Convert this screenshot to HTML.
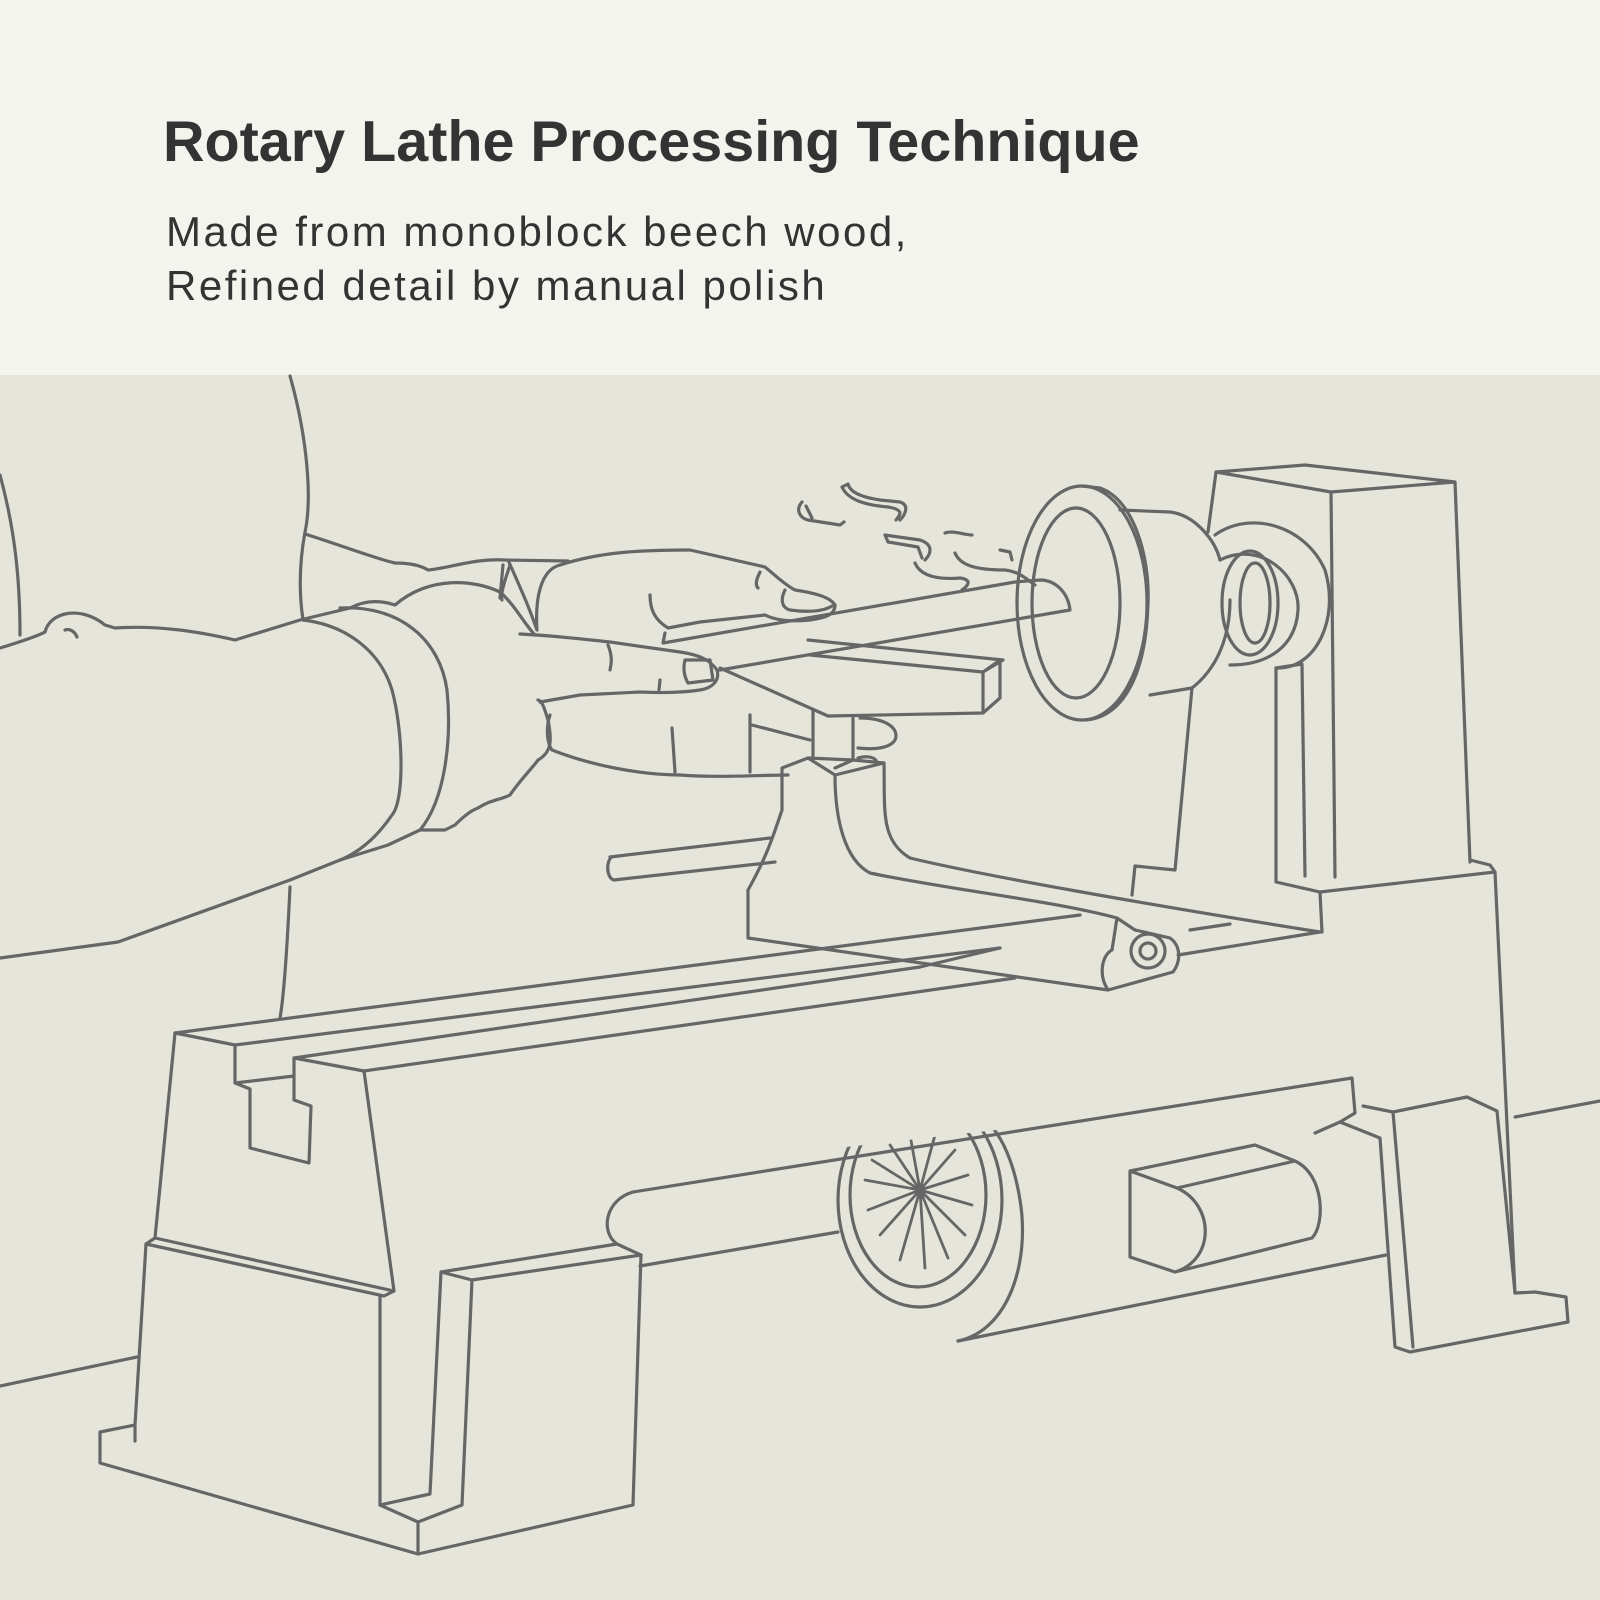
<!DOCTYPE html>
<html><head><style>
html,body{margin:0;padding:0}
body{width:1600px;height:1600px;position:relative;background:#e6e5db;overflow:hidden;font-family:"Liberation Sans",sans-serif}
.top{position:absolute;left:0;top:0;width:1600px;height:375px;background:#f4f4ee}
h1{position:absolute;left:163px;top:109px;margin:0;font-size:57.5px;font-weight:bold;color:#333;letter-spacing:0px}
.sub{position:absolute;left:166px;top:205px;font-size:42px;line-height:54px;color:#333;letter-spacing:2.5px}
svg{position:absolute;left:0;top:0}
</style></head><body>
<div class="top"></div>
<h1>Rotary Lathe Processing Technique</h1>
<div class="sub">Made from monoblock beech wood,<br>Refined detail by manual polish</div>
<svg width="1600" height="1600" viewBox="0 0 1600 1600" fill="none" stroke="#666" stroke-width="3.2" stroke-linejoin="round" stroke-linecap="round">
<path d="M0 1386 L137 1357 M1515 1117 L1600 1101 M640 1266 L838 1232 M958 1341 L1386 1255"/>
<path d="M175 1033 L1080 915 M235 1045 L1000 948 M294 1058 L920 967 M364 1071 L1015 978 M1178 955 L1320 932 M1190 930 L1230 924"/>
<path d="M175 1033 L235 1045 L235 1083 L294 1076 M294 1058 L364 1071 L294 1058 L294 1100 L311 1106 L309 1163 L250 1148 L250 1089 L235 1083"/>
<path d="M175 1033 L155 1238 L146 1244 L384 1296 L394 1291 L155 1238 M364 1071 L394 1291"/>
<path d="M146 1244 L135 1425 L100 1432 L100 1463 L418 1554 L633 1505 L641 1255 L617 1244 L441 1272 L430 1494 L380 1505 L380 1296"/>
<path d="M441 1272 L472 1280 L462 1505 L418 1522 L418 1554 M380 1505 L418 1522 M472 1280 L641 1255 M135 1425 L135 1441"/>
<path d="M633 1192 C605 1200 600 1232 617 1244 M633 1192 L1352 1078 L1355 1113 L1340 1122 L1380 1138 L1395 1347 L1410 1352 L1568 1322 L1566 1297 L1535 1292 L1515 1293 L1497 1111 L1467 1097 L1393 1112 L1363 1106 M1393 1112 L1413 1347"/>
<path d="M1315 1133 L1340 1122"/>
<path d="M1322 932 L1320 892 L1495 872 L1515 1293 M1320 892 L1276 882 L1276 668 L1302 664 L1305 876 M1495 872 L1490 865 L1470 860"/>
<defs><clipPath id="c"><path d="M820 1150 L1040 1125 L1040 1360 L820 1360Z"/></clipPath></defs>
<g clip-path="url(#c)">
<ellipse cx="920" cy="1200" rx="82" ry="107"/>
<ellipse cx="918" cy="1195" rx="68" ry="92"/>
<path d="M958 1341 C1010 1330 1030 1260 1020 1200 C1012 1150 995 1130 990 1125"/>
<g transform="translate(920,1190)" stroke-width="2.8">
<path d="M0 0 L-55 -10 M0 0 L-52 20 M0 0 L-40 45 M0 0 L-20 70 M0 0 L5 78 M0 0 L28 68 M0 0 L45 45 M0 0 L52 15 M0 0 L48 -15 M0 0 L35 -40 M0 0 L15 -55 M0 0 L-10 -55 M0 0 L-30 -45 M0 0 L-48 -30"/>
</g>
</g>
<path d="M1130 1171 L1255 1145 L1295 1161 C1325 1175 1325 1225 1312 1238 L1175 1272 L1130 1257 Z M1130 1171 L1177 1188 L1295 1161 M1177 1188 C1215 1205 1215 1260 1175 1272"/>
<path d="M1216 472 L1305 465 L1455 482 L1331 492 L1216 472 L1208 532 M1331 492 L1335 877 M1455 482 L1470 862"/>
<ellipse cx="1082" cy="603" rx="65" ry="117"/>
<ellipse cx="1076" cy="603" rx="44" ry="95"/>
<path d="M1082 486 L1100 488 C1135 500 1150 560 1148 603 C1146 680 1120 718 1085 720"/>
<path d="M1120 510 L1170 512 C1195 515 1215 540 1220 560 M1150 695 L1192 688 C1215 670 1230 640 1230 600"/>
<path d="M1215 535 C1250 510 1305 525 1325 570 C1340 620 1315 670 1276 668 M1220 560 C1260 540 1300 575 1298 610 C1296 645 1270 665 1230 665"/>
<ellipse cx="1250" cy="603" rx="28" ry="52"/><ellipse cx="1255" cy="603" rx="15" ry="40"/>
<path d="M1192 688 L1175 870 L1135 866 L1132 895"/>
<path d="M748 890 L748 938 L1108 990 L1173 972 C1182 960 1180 945 1170 938 L1135 930 L1170 938 M1108 990 C1098 975 1102 955 1112 950 L1117 918 L1135 930 M748 890 C765 860 772 840 782 810 L782 768 L808 758 L835 775 L884 763 M835 775 C835 820 845 860 870 873 C950 890 1050 900 1117 918"/>
<path d="M884 763 C885 810 880 840 910 858 C980 875 1150 905 1320 932 M920 967 L1000 948"/>
<circle cx="1148" cy="951" r="17"/><circle cx="1148" cy="951" r="8"/>
<path d="M610 857 L770 838 M614 880 L775 862 M612 857 C606 860 606 878 614 880"/>
<path d="M813 710 L813 758 M853 718 L853 760 L835 768 M808 758 L853 760 L884 763"/>
<path d="M720 668 L828 716 L983 713 L1000 698 L1000 660 L983 672 L983 713 M810 655 L983 672 L1003 660 L808 640"/>
<path d="M720 670 L1070 610 C1068 592 1055 580 1040 580 L1015 582 L663 643 L665 633"/>
<path d="M802 502 C795 510 800 518 808 520 L840 525 L844 522 M806 506 L812 518 M842 487 L848 484 C850 492 860 497 880 500 L900 502 C910 505 905 515 900 520 M842 487 C848 500 865 505 888 507 C905 510 900 515 896 520 M885 535 L920 540 C935 545 930 555 925 560 M885 535 L888 542 L918 547 L922 558 M945 533 C952 530 965 535 972 535 M915 563 C920 575 935 580 960 578 C975 580 965 588 962 590 M955 553 C960 565 975 570 1005 570 C1020 572 1025 578 1035 585 M1000 550 L1010 552 L1012 560"/>
<path d="M290 376 C308 440 312 500 305 532 C298 570 300 600 303 620"/>
<path d="M0 475 C15 530 20 580 20 635"/>
<path d="M305 534 C340 545 380 560 395 563 C410 563 420 565 428 570 C450 568 475 558 505 560 L568 561"/>
<path d="M290 887 C288 930 285 990 280 1018"/>
<path d="M0 648 C20 642 40 635 45 632 C50 612 80 605 105 625 L115 628 C160 625 200 632 235 640 L300 620 L350 608 C365 600 380 600 395 605 C430 575 475 580 500 592 C515 605 525 625 535 635"/>
<path d="M65 630 C70 628 75 632 77 637"/>
<path d="M303 620 C345 625 380 650 392 690 C403 730 405 800 392 815 C375 840 355 855 335 862 L290 880 L118 942 L0 958"/>
<path d="M340 608 C400 605 440 640 447 690 C452 740 445 800 420 830 L388 845 L340 860 M420 830 L445 830 L455 825 C465 815 472 810 478 808 C490 800 500 800 510 795 C520 780 535 765 538 760 C552 752 552 740 548 720 C545 710 542 700 538 700"/>
<path d="M520 634 C560 636 590 640 610 642 L680 652 C700 655 710 660 717 670 C720 680 713 688 700 690 C680 693 660 693 640 692 L580 695 L540 702"/>
<path d="M685 660 L710 660 L713 680 L688 683 C684 676 683 668 685 660 Z"/>
<path d="M608 645 C612 655 612 662 610 670 M660 680 L659 690"/>
<path d="M550 715 C545 730 548 745 552 750 C590 765 640 775 680 775 C720 778 760 775 788 775 M672 728 L675 772 M750 715 L750 772 M752 725 L810 740 M860 718 C885 718 900 728 895 740 C890 748 875 750 858 748 M858 758 C868 755 878 758 876 763"/>
<path d="M510 565 C505 580 500 595 502 600 M503 565 L500 598 M508 560 C525 598 530 610 537 630 M560 565 C540 570 535 600 537 630"/>
<path d="M560 565 C600 552 640 550 690 550 L765 567 C775 575 785 585 795 590 C815 593 830 597 835 605 C835 615 825 618 810 620 C790 622 775 620 765 615 L700 622 L668 628 C655 620 650 610 650 595"/>
<path d="M785 590 C780 600 782 608 790 610 C805 612 822 612 832 606 M760 572 C756 580 755 585 758 588"/>
</svg>
</body></html>
